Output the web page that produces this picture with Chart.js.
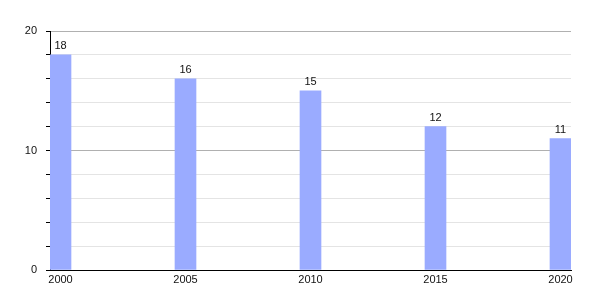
<!DOCTYPE html>
<html>
<head>
<meta charset="utf-8">
<script src="https://cdn.jsdelivr.net/npm/chart.js@4"></script>
<style>
  html, body { margin: 0; padding: 0; background: #fff; }
  #wrap { width: 600px; height: 300px; }
</style>
</head>
<body>
<div id="wrap"><canvas id="chart" width="600" height="300"></canvas></div>
<script>
// data
const years = [2000, 2005, 2010, 2015, 2020];
const values = [18, 16, 15, 12, 11];
const yTicks = [0, 10, 20];

// write the value above each bar
const valueLabels = {
  id: 'valueLabels',
  afterDatasetsDraw(chart) {
    const ctx = chart.ctx;
    const meta = chart.getDatasetMeta(0);
    ctx.save();
    ctx.font = '11px "Liberation Sans", Arial, sans-serif';
    ctx.fillStyle = '#111';
    ctx.textAlign = 'center';
    ctx.textBaseline = 'bottom';
    meta.data.forEach((bar, i) => {
      ctx.fillText(values[i], bar.x, bar.y - 3);
    });
    ctx.restore();
  }
};

const ctx = document.getElementById('chart').getContext('2d');

new Chart(ctx, {
  type: 'bar',
  data: {
    datasets: [{
      data: years.map((y, i) => ({ x: y, y: values[i] })),
      backgroundColor: '#9aabff',
      borderWidth: 0,
      barThickness: 21
    }]
  },
  options: {
    responsive: false,
    animation: false,
    layout: { padding: { top: 31, right: 29, left: 0, bottom: 0 } },
    plugins: {
      legend: { display: false },
      tooltip: { enabled: false }
    },
    scales: {
      x: {
        type: 'linear',
        offset: false,
        min: 1999.58,
        max: 2020.42,
        afterBuildTicks: axis => { axis.ticks = years.map(v => ({ value: v })); },
        afterFit: axis => { axis.height = 30; },
        grid: { display: false, drawTicks: false, offset: false },
        border: { display: true, color: '#000', width: 1 },
        ticks: {
          padding: 3,
          color: '#111',
          font: { family: '"Liberation Sans", Arial, sans-serif', size: 11 },
          callback: v => String(v),
          maxRotation: 0
        }
      },
      y: {
        min: 0,
        max: 20,
        afterFit: axis => { axis.width = 50; },
        grid: {
          color: c => (c.tick && yTicks.includes(c.tick.value)) ? '#b0b0b0' : '#e4e4e4',
          tickColor: '#000',
          tickLength: 4,
          drawTicks: true
        },
        border: { display: true, color: '#000', width: 1 },
        ticks: {
          stepSize: 2,
          autoSkip: false,
          padding: 9,
          color: '#111',
          font: { family: '"Liberation Sans", Arial, sans-serif', size: 11 },
          callback: v => yTicks.includes(v) ? String(v) : ''
        }
      }
    }
  },
  plugins: [valueLabels]
});
</script>
</body>
</html>
